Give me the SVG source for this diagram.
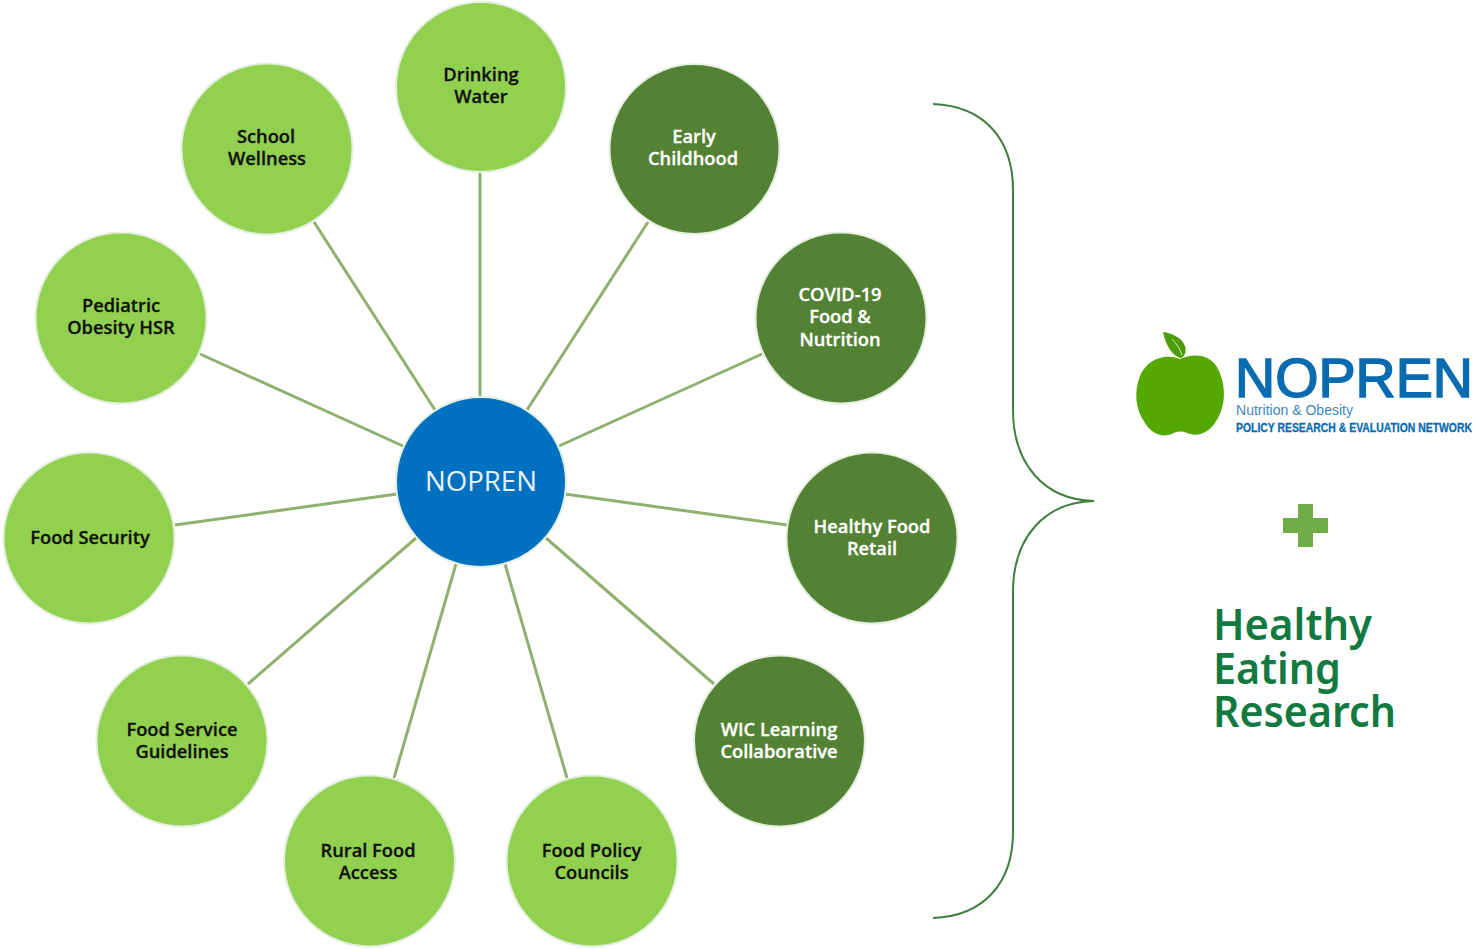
<svg xmlns="http://www.w3.org/2000/svg" width="1484" height="949" viewBox="0 0 1484 949">
<style>
.n{stroke:#e4efe0;stroke-width:2}
.l{fill:#92d050}.d{fill:#548235}
.t{font-family:"Open Sans","Noto Sans",sans-serif;font-size:18.3px;font-weight:600;text-anchor:middle;stroke-width:.3}
.l+text{fill:#111;stroke:#111}.d+text{fill:#fff;stroke:#fff}
.c{stroke:#8fb06f;stroke-width:3;fill:none}
.logo{font-family:"Liberation Sans",Arial,sans-serif}
.her{font-family:"Noto Sans","Open Sans",sans-serif;font-size:44px;font-weight:600;fill:#127a41}
</style>
<rect width="1484" height="949" fill="#fff"/>
<g id="connectors">
<path class="c" d="M480 173V396"/>
<path class="c" d="M648 222L527 410"/>
<path class="c" d="M762 354L559 446"/>
<path class="c" d="M787 525L565 494"/>
<path class="c" d="M714 684L546 538"/>
<path class="c" d="M567 778L505 564"/>
<path class="c" d="M394 778L456 564"/>
<path class="c" d="M248 684L416 538"/>
<path class="c" d="M175 525L397 494"/>
<path class="c" d="M200 354L403 446"/>
<path class="c" d="M314 222L435 410"/>
<path d="M933 104C985 106 1013 140 1013 190V410C1013 465 1045 500 1094 501C1045 502 1013 537 1013 592V832C1013 882 985 916 933 918" fill="none" stroke="#3f7f3f" stroke-width="2"/>
</g>
<g id="center"><circle class="n" cx="481" cy="482" r="85" fill="#0070c0"/><text x="481" y="491" font-family="Open Sans,Noto Sans,sans-serif" font-size="27.6" fill="#e8f2fa" text-anchor="middle">NOPREN</text></g>
<g id="drinking-water"><circle class="n l" cx="481" cy="87" r="85"/><text class="t"><tspan x="481" y="81">Drinking</tspan><tspan x="481" y="103">Water</tspan></text></g>
<g id="early-childhood"><circle class="n d" cx="694.500" cy="149" r="85"/><text class="t"><tspan x="694" y="143">Early</tspan><tspan x="693" y="165">Childhood</tspan></text></g>
<g id="covid"><circle class="n d" cx="841" cy="318" r="85.500"/><text class="t"><tspan x="840" y="301">COVID-19</tspan><tspan x="840" y="323">Food &amp;</tspan><tspan x="840" y="346">Nutrition</tspan></text></g>
<g id="healthy-food-retail"><circle class="n d" cx="872" cy="538" r="85.500"/><text class="t"><tspan x="872" y="533">Healthy Food</tspan><tspan x="872" y="555">Retail</tspan></text></g>
<g id="wic"><circle class="n d" cx="779.500" cy="741" r="85.500"/><text class="t"><tspan x="779" y="736">WIC Learning</tspan><tspan x="779" y="758">Collaborative</tspan></text></g>
<g id="food-policy"><circle class="n l" cx="592" cy="861" r="85.500"/><text class="t"><tspan x="591.500" y="857">Food Policy</tspan><tspan x="591.500" y="879">Councils</tspan></text></g>
<g id="rural-food"><circle class="n l" cx="369.500" cy="861" r="85.500"/><text class="t"><tspan x="368" y="857">Rural Food</tspan><tspan x="368" y="879">Access</tspan></text></g>
<g id="food-service"><circle class="n l" cx="182" cy="741" r="85.500"/><text class="t"><tspan x="182" y="736">Food Service</tspan><tspan x="182" y="758">Guidelines</tspan></text></g>
<g id="food-security"><circle class="n l" cx="89" cy="538" r="85.500"/><text class="t" x="90" y="544">Food Security</text></g>
<g id="pediatric"><circle class="n l" cx="121" cy="318" r="85.500"/><text class="t"><tspan x="121" y="312">Pediatric</tspan><tspan x="121" y="334">Obesity HSR</tspan></text></g>
<g id="school-wellness"><circle class="n l" cx="267" cy="149" r="85.500"/><text class="t"><tspan x="266" y="143">School</tspan><tspan x="267" y="165">Wellness</tspan></text></g>
<g id="nopren-logo">
<path d="M1180 359C1192 353 1212 353 1219 371C1227 389 1225 409 1215 423C1207 434 1197 437 1187 433C1181 431 1178 431 1172 434C1161 438 1151 433 1145 423C1135 409 1134 391 1140 376C1147 359 1165 353 1180 359Z" fill="#54a800"/>
<path d="M1163 332C1172 333 1182 338 1185 346C1187 352 1184 357 1181 358C1172 356 1166 346 1163 332Z" fill="#4d9c0a"/>
<path d="M1172 339C1177 344 1180 349 1182 355" stroke="#d8ecc8" stroke-width="1" fill="none"/>
<text class="logo" x="1235" y="397" font-size="56" fill="#0a6cb0" stroke="#0a6cb0" stroke-width="1.6" textLength="238" lengthAdjust="spacingAndGlyphs">NOPREN</text>
<text class="logo" x="1236" y="415" font-size="14" fill="#3f86bd" textLength="117" lengthAdjust="spacingAndGlyphs">Nutrition &amp; Obesity</text>
<text class="logo" x="1236" y="432" font-size="12" font-weight="700" fill="#0a6cb0" stroke="#0a6cb0" stroke-width=".3" textLength="236" lengthAdjust="spacingAndGlyphs">POLICY RESEARCH &amp; EVALUATION NETWORK</text>
</g>
<path id="plus" d="M1298 504H1313V518H1328V533H1313V547H1298V533H1283V518H1298Z" fill="#70ad47"/>
<g id="her-logo" class="her">
<text x="1213" y="640" textLength="159" lengthAdjust="spacingAndGlyphs">Healthy</text>
<text x="1213" y="684" textLength="128" lengthAdjust="spacingAndGlyphs">Eating</text>
<text x="1213" y="727" textLength="183" lengthAdjust="spacingAndGlyphs">Research</text>
</g>
</svg>
